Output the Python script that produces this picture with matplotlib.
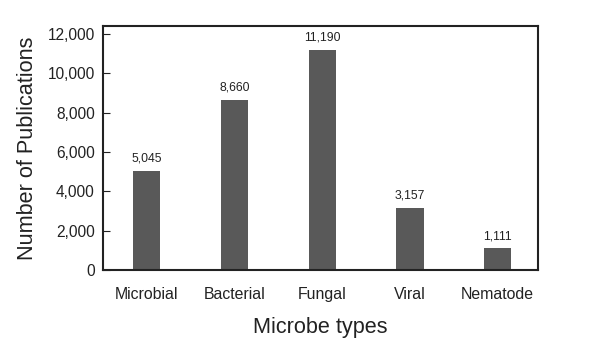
import matplotlib.pyplot as plt

plt.rcParams['font.family'] = ['Liberation Sans', 'DejaVu Sans']

categories = ['Microbial', 'Bacterial', 'Fungal', 'Viral', 'Nematode']
publications = [5045, 8660, 11190, 3157, 1111]
yticks = [0, 2000, 4000, 6000, 8000, 10000, 12000]

fig = plt.figure(figsize=(6, 3.52), dpi=100)
ax = fig.add_axes([103 / 600, 1 - 270 / 352, 435 / 600, 244 / 352])

x = range(len(categories))
bars = ax.bar(x, publications, width=0.31, color='#595959')
for b, v in zip(bars, publications):
    ax.text(b.get_x() + b.get_width() / 2, v + 300, f'{v:,}',
            ha='center', va='bottom', fontsize=8.8, color='#222222')

ax.set_xlim(-0.5, 4.46)
ax.set_ylim(0, 12400)
ax.set_yticks(yticks)
ax.set_yticklabels([f'{t:,}' for t in yticks])
ax.set_xticks(list(x))
ax.set_xticklabels(categories)
ax.tick_params(axis='y', direction='in', length=5, labelsize=11.2, pad=6,
               colors='#222222')
ax.tick_params(axis='x', length=0, labelsize=11.4, pad=12, colors='#222222')
for s in ax.spines.values():
    s.set_linewidth(1.5)
    s.set_color('#222222')

ax.set_ylabel('Number of Publications', fontsize=15.6, labelpad=7, color='#222222')
ax.set_xlabel('Microbe types', fontsize=15.6, labelpad=11, color='#222222')

fig.savefig('out.png', dpi=100)
